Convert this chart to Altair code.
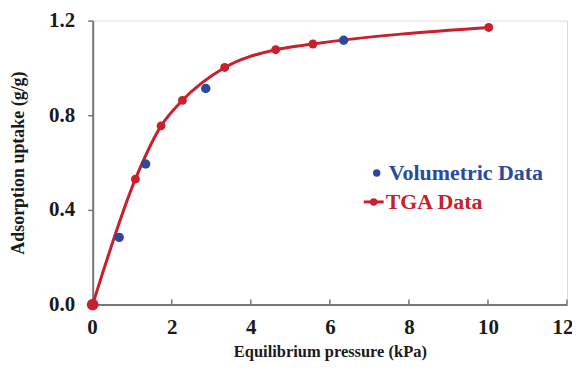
import altair as alt
import pandas as pd

# TGA data (red, with smooth line)
tga_p = [0.0, 1.08, 1.73, 2.27, 3.34, 4.63, 5.57, 10.02]
tga_u = [0.0, 0.53, 0.755, 0.863, 1.002, 1.077, 1.101, 1.171]
# Volumetric data (blue points)
vol_p = [0.67, 1.34, 2.86, 6.35]
vol_u = [0.284, 0.594, 0.913, 1.117]
# axis tick values
x_ticks = [0, 2, 4, 6, 8, 10, 12]
y_ticks = [0, 0.4, 0.8, 1.2]

RED = "#c8202c"
BLUE = "#2b4a9c"
AXIS = "#777777"
FONT = "'Liberation Serif', 'Times New Roman', serif"

tga = pd.DataFrame({"p": tga_p, "u": tga_u})
vol = pd.DataFrame({"p": vol_p, "u": vol_u})
xt = pd.DataFrame({"v": x_ticks[1:]})

xs = alt.Scale(domain=[0, 12], nice=False)
ys = alt.Scale(domain=[0, 1.2], nice=False)

xax = alt.Axis(title="Equilibrium pressure (kPa)", values=x_ticks,
               format="d", grid=False, domainColor=AXIS, domainWidth=2,
               ticks=False, labelFlush=True, labelFlushOffset=6,
               labelFont=FONT, labelFontSize=21, labelFontWeight="bold",
               labelColor="#1a1a1a", labelPadding=12,
               titleFont=FONT, titleFontSize=16.5, titleFontWeight="bold",
               titleColor="#1a1a1a", titlePadding=6)
yax = alt.Axis(title="Adsorption uptake (g/g)", values=y_ticks,
               format=".1f", grid=False, domainColor=AXIS, domainWidth=2,
               tickColor=AXIS, tickSize=5, tickWidth=1.5,
               labelFont=FONT, labelFontSize=21, labelFontWeight="bold",
               labelColor="#1a1a1a", labelPadding=13,
               titleFont=FONT, titleFontSize=18, titleFontWeight="bold",
               titleColor="#1a1a1a", titlePadding=21)

line = alt.Chart(tga).mark_line(color=RED, strokeWidth=3, interpolate="monotone").encode(
    x=alt.X("p:Q", scale=xs, axis=xax),
    y=alt.Y("u:Q", scale=ys, axis=yax),
)
# inward x-axis ticks
xtick_marks = alt.Chart(xt).mark_rule(color=AXIS, strokeWidth=1.5).encode(
    x=alt.X("v:Q", scale=xs), y=alt.value(285), y2=alt.value(280))
tga_pts = alt.Chart(tga).mark_circle(color=RED, opacity=1, size=80).encode(
    x=alt.X("p:Q", scale=xs), y=alt.Y("u:Q", scale=ys))
origin = alt.Chart(tga.iloc[:1]).mark_circle(color=RED, opacity=1, size=140).encode(
    x=alt.X("p:Q", scale=xs), y=alt.Y("u:Q", scale=ys))
vol_pts = alt.Chart(vol).mark_circle(color=BLUE, opacity=1, size=90).encode(
    x=alt.X("p:Q", scale=xs), y=alt.Y("u:Q", scale=ys))

# manual legend
leg_names = ["Volumetric Data", "TGA Data"]
leg = pd.DataFrame({"name": leg_names})
t1 = alt.Chart(leg.iloc[:1]).mark_text(font=FONT, fontSize=22, fontWeight="bold",
                                       color=BLUE, align="left", baseline="middle").encode(
    text="name:N", x=alt.value(297), y=alt.value(153))
d1 = alt.Chart(leg.iloc[:1]).mark_circle(color=BLUE, opacity=1, size=55).encode(
    x=alt.value(285), y=alt.value(153))
t2 = alt.Chart(leg.iloc[1:]).mark_text(font=FONT, fontSize=22, fontWeight="bold",
                                       color=RED, align="left", baseline="middle").encode(
    text="name:N", x=alt.value(294), y=alt.value(182))
l2 = alt.Chart(leg.iloc[1:]).mark_rule(color=RED, strokeWidth=3).encode(
    x=alt.value(272), x2=alt.value(292), y=alt.value(182))
d2 = alt.Chart(leg.iloc[1:]).mark_circle(color=RED, opacity=1, size=55).encode(
    x=alt.value(282), y=alt.value(182))

chart = alt.layer(xtick_marks, line, tga_pts, origin, vol_pts, l2, d2, d1, t1, t2).properties(
    width=476, height=285,
    autosize=alt.AutoSizeParams(type="none"),
    padding={"left": 85, "top": 12, "right": 5, "bottom": 57},
).configure_view(stroke=None).configure(background="white")

chart.save("out.html", embed_options={"renderer": "svg", "actions": False})
